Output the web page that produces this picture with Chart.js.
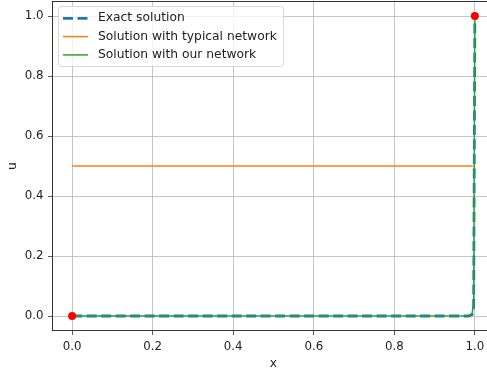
<!DOCTYPE html>
<html>
<head>
<meta charset="utf-8">
<script src="https://cdn.jsdelivr.net/npm/chart.js@4.4.1/dist/chart.umd.min.js"></script>
<style>
  html, body { margin: 0; padding: 0; overflow: hidden; background: #fff; }
  #wrap { width: 500px; height: 374px; position: relative; top: -3px; }
</style>
</head>
<body>
<div id="wrap"><canvas id="c"></canvas></div>
<script>
// Tick values for both axes
const xTicks = [0, 0.2, 0.4, 0.6, 0.8, 1.0];
const uTicks = [0, 0.2, 0.4, 0.6, 0.8, 1.0];

// Exact solution: flat at 0, boundary layer at x = 1
const xExact = [0, 0.985, 0.993, 0.997, 1.0];
const uExact = [0, 0, 0.005, 0.03, 1.0];

// Solution with typical network: stuck at 0.5
const xTypical = [0, 0.995];
const uTypical = [0.5, 0.5];

// Solution with our network
const xOurs = [0, 0.985, 0.993, 0.997, 1.0];
const uOurs = [0, 0.001, 0.008, 0.04, 1.0];

// Boundary conditions
const xBoundary = [0, 1];
const uBoundary = [0, 1];

const labels = ['Exact solution', 'Solution with typical network', 'Solution with our network'];

const FONT = 'DejaVu Sans';
const FS_TICK = 11.8;
const FS_TEXT = 12.3;
const toPts = (xs, ys) => xs.map((x, i) => ({ x: x, y: ys[i] }));

// Legend drawn inside the plot area, upper left
const legendBox = {
  id: 'legendBox',
  afterDraw(chart) {
    const ctx = chart.ctx;
    const a = chart.chartArea;
    const items = chart.data.datasets.filter(d => d.label);
    const bx = a.left + 6, by = a.top + 5, bw = 225, bh = 60, r = 3;
    ctx.save();
    ctx.beginPath();
    ctx.roundRect(bx + 0.5, by + 0.5, bw, bh, r);
    ctx.fillStyle = 'rgba(255,255,255,0.8)';
    ctx.fill();
    ctx.strokeStyle = '#d6d6d6';
    ctx.lineWidth = 1;
    ctx.stroke();
    ctx.font = FS_TEXT + 'px "' + FONT + '"';
    ctx.textBaseline = 'middle';
    ctx.textAlign = 'left';
    items.forEach((d, i) => {
      const y = by + 12.3 + i * 18.3;
      ctx.beginPath();
      ctx.setLineDash(d.borderDash || []);
      ctx.lineWidth = d.borderWidth;
      ctx.strokeStyle = d.borderColor;
      ctx.moveTo(bx + 5, y);
      ctx.lineTo(bx + 30, y);
      ctx.stroke();
      ctx.setLineDash([]);
      ctx.fillStyle = '#222';
      ctx.fillText(d.label, bx + 40, y);
    });
    ctx.restore();
  }
};

// Full frame around the plot area
const frame = {
  id: 'frame',
  afterDatasetsDraw(chart) {
    const a = chart.chartArea, ctx = chart.ctx;
    ctx.save();
    ctx.strokeStyle = '#333';
    ctx.lineWidth = 1;
    ctx.strokeRect(a.left + 0.5, a.top + 0.5, a.right - a.left - 1, a.bottom - a.top - 1);
    ctx.restore();
  }
};

const axisCommon = (vals) => ({
  type: 'linear',
  min: -0.05,
  max: 1.05,
  afterBuildTicks(scale) { scale.ticks = vals.map(v => ({ value: v })); },
  grid: { color: '#b8b8b8', lineWidth: 0.8, tickColor: '#333', tickLength: 4, drawTicks: true },
  border: { display: false },
  ticks: {
    color: '#222',
    font: { family: FONT, size: FS_TICK },
    padding: 4.5,
    callback: v => v.toFixed(1),
    autoSkip: false,
    maxRotation: 0
  }
});

const xAxis = axisCommon(xTicks);
xAxis.title = { display: true, text: 'x', color: '#222', font: { family: FONT, size: FS_TEXT }, padding: { top: 0, bottom: 0 } };
xAxis.afterFit = s => { s.height = 40; s.paddingLeft = 0; s.paddingRight = 0; };

const yAxis = axisCommon(uTicks);
yAxis.title = { display: true, text: 'u', color: '#222', font: { family: FONT, size: FS_TEXT }, padding: { top: 5, bottom: 0 } };
yAxis.afterFit = s => { s.width = 52; s.paddingTop = 0; s.paddingBottom = 0; };

new Chart(document.getElementById('c'), {
  type: 'scatter',
  data: {
    datasets: [
      { label: labels[0], data: toPts(xExact, uExact), showLine: true, borderColor: '#1f77b4', borderWidth: 2.8, borderDash: [10, 4.5], pointRadius: 0, order: 3, tension: 0 },
      { label: labels[1], data: toPts(xTypical, uTypical), showLine: true, borderColor: '#ff7f0e', borderWidth: 1.5, pointRadius: 0, order: 2 },
      { label: labels[2], data: toPts(xOurs, uOurs), showLine: true, borderColor: '#2ca02c', borderWidth: 1.5, pointRadius: 0, order: 1 },
      { data: toPts(xBoundary, uBoundary), showLine: false, backgroundColor: '#ff0000', borderColor: '#ff0000', pointRadius: 4, borderWidth: 0, order: 0 }
    ]
  },
  options: {
    responsive: true,
    maintainAspectRatio: false,
    animation: false,
    layout: { padding: { top: 1, right: 5, left: 0, bottom: 0 } },
    plugins: { legend: { display: false }, tooltip: { enabled: false } },
    scales: { x: xAxis, y: yAxis }
  },
  plugins: [frame, legendBox]
});
</script>
</body>
</html>
